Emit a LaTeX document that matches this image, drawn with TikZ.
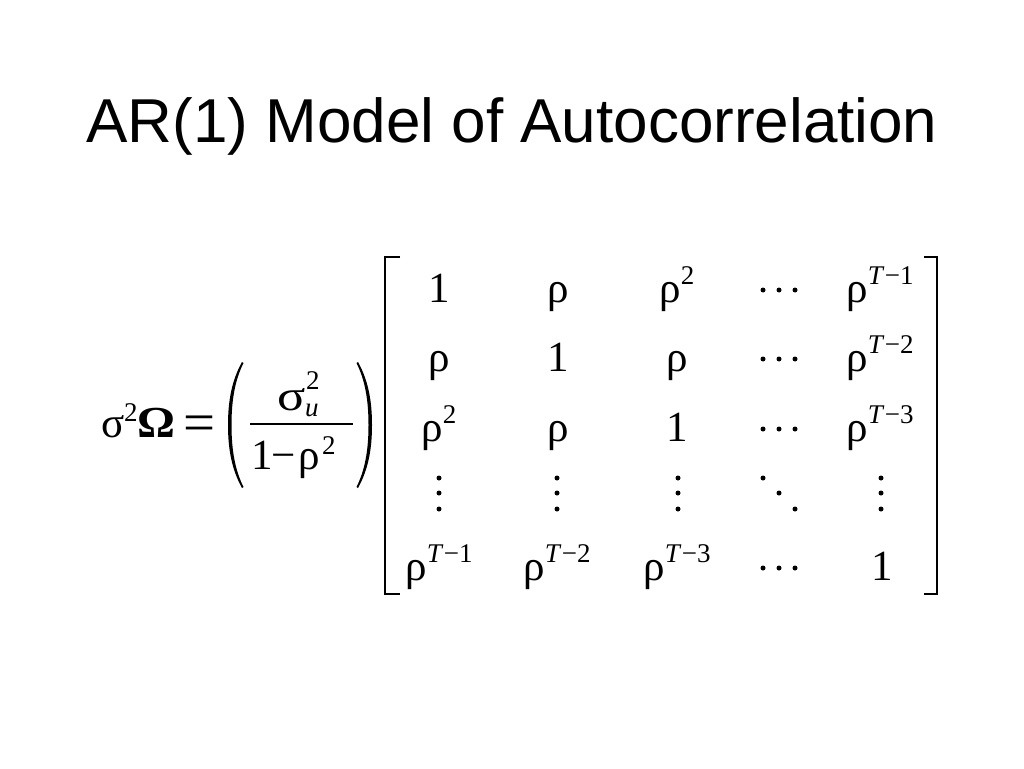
\documentclass[tikz,border=0pt]{standalone}
\usepackage{fontspec}
\setmainfont{Liberation Serif}
\newfontfamily\titlefont{Liberation Sans}
\newcommand\myrhosup[1]{ρ\raisebox{18pt}{\fontsize{27}{27}\selectfont #1}}
\newcommand\myT[1]{\textit{T}\kern0.5pt−#1}
\begin{document}
\begin{tikzpicture}[x=1pt,y=-1pt,
  txt/.style={anchor=base, inner sep=0pt, outer sep=0pt, font=\fontsize{43}{43}\selectfont},
  txtw/.style={txt, anchor=base west},
  smallw/.style={anchor=base west, inner sep=0pt, outer sep=0pt, font=\fontsize{27}{27}\selectfont},
  brk/.style={line width=2pt},
  dotr/.style={fill=black}]
\useasboundingbox[fill=white] (0,0) rectangle (1024,768);

% title
\node[anchor=base, inner sep=0pt, font=\titlefont\fontsize{62}{62}\selectfont] (title) at (512,142) {AR(1) Model of Autocorrelation};

% left side
\node[txtw] (sig) at (101,437) {σ};
\node[smallw] (sig2) at (124,421) {2};
\node[txtw] (omega) at (137,437) {\scalebox{1.1}[1.03]{\textbf{Ω}}};
\node[txt] (eq) at (200,441) {\scalebox{1.32}[1.3]{=}};

% parentheses
\fill (242,362) .. controls (232,380) and (228,400) .. (228,425)
  .. controls (228,450) and (232,470) .. (242,488)
  -- (243.5,487) .. controls (235,470) and (231.5,450) .. (231.5,425)
  .. controls (231.5,400) and (235,380) .. (243.5,363) -- cycle;
\fill (358,362) .. controls (368,380) and (372,400) .. (372,425)
  .. controls (372,450) and (368,470) .. (358,488)
  -- (356.5,487) .. controls (365,470) and (368.5,450) .. (368.5,425)
  .. controls (368.5,400) and (365,380) .. (356.5,363) -- cycle;

% fraction
\node[txtw] (num) at (277,410) {\scalebox{1.22}[1]{σ}};
\node[smallw] (numsup) at (306,389) {2};
\node[smallw] (numsub) at (305,416) {\textit{u}};
\draw[line width=1.8pt] (250,424) -- (353,424);
\node[txtw] (d1) at (251,469) {1};
\node[txtw] (dminus) at (271,469) {−};
\node[txtw] (drho) at (298,469) {ρ};
\node[smallw] (dsup) at (322,454) {2};

% brackets
\draw[brk] (400,257) -- (385,257) -- (385,594) -- (400,594);
\draw[brk] (924,257) -- (937,257) -- (937,594) -- (924,594);

% row 1
\node[txt] (a11) at (439,302) {1};
\node[txt] (a12) at (558,302) {ρ};
\node[txt] (a13) at (677,302) {\myrhosup{2}};
\node[txt] (a15) at (880,302) {\myrhosup{\myT{1}}};
% row 2
\node[txt] (a21) at (439,371) {ρ};
\node[txt] (a22) at (558,371) {1};
\node[txt] (a23) at (677,371) {ρ};
\node[txt] (a25) at (880,371) {\myrhosup{\myT{2}}};
% row 3
\node[txt] (a31) at (439,441) {\myrhosup{2}};
\node[txt] (a32) at (558,441) {ρ};
\node[txt] (a33) at (677,441) {1};
\node[txt] (a35) at (880,441) {\myrhosup{\myT{3}}};
% row 5
\node[txt] (a51) at (439,580) {\myrhosup{\myT{1}}};
\node[txt] (a52) at (557,580) {\myrhosup{\myT{2}}};
\node[txt] (a53) at (677,580) {\myrhosup{\myT{3}}};
\node[txt] (a55) at (882,580) {1};

% cdots
\foreach \y in {290,359,429,568}
  \foreach \x in {763,779,795}
    \fill[dotr] (\x,\y) circle[radius=2.5pt];
% vdots
\foreach \x in {439,557,678,881}
  \foreach \y in {478,493,509}
    \fill[dotr] (\x,\y) circle[radius=2.5pt];
% ddots
\fill[dotr] (763,478) circle[radius=2.5pt];
\fill[dotr] (779,493) circle[radius=2.5pt];
\fill[dotr] (795,509) circle[radius=2.5pt];
\end{tikzpicture}
\end{document}
